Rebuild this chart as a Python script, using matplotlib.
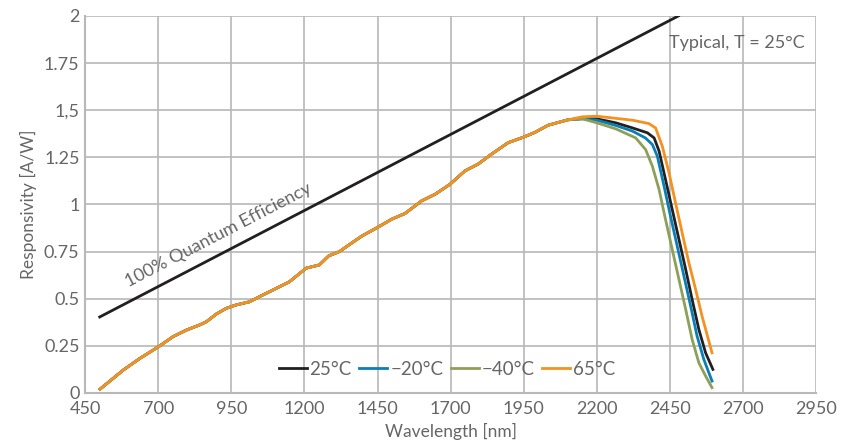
import numpy as np
import matplotlib.pyplot as plt

plt.rcParams['font.family'] = ['Lato', 'DejaVu Sans']

# shared part of the responsivity curve (all temperatures overlap here)
wl_common = [501, 581, 638, 702, 751, 797, 842, 865, 899, 933, 967, 1013, 1058, 1104,
             1149, 1206, 1251, 1283, 1320, 1340, 1397, 1450, 1499, 1544, 1601, 1647,
             1698, 1749, 1794, 1840, 1897, 1946, 1988, 2033, 2101]
r_common = [0.02, 0.122, 0.184, 0.246, 0.299, 0.334, 0.361, 0.378, 0.419, 0.449, 0.467,
            0.484, 0.52, 0.555, 0.59, 0.662, 0.679, 0.727, 0.75, 0.772, 0.833, 0.878,
            0.922, 0.952, 1.019, 1.054, 1.107, 1.178, 1.214, 1.267, 1.328, 1.355, 1.382,
            1.42, 1.449]

# tails per temperature
wl_25 = [2151, 2200, 2265, 2322, 2373, 2396, 2413, 2435, 2458, 2481, 2504, 2526, 2549, 2572, 2597]
r_25 = [1.456, 1.454, 1.433, 1.406, 1.38, 1.353, 1.283, 1.132, 0.973, 0.814, 0.655, 0.496, 0.337, 0.213, 0.125]

wl_m20 = [2151, 2200, 2265, 2322, 2366, 2390, 2407, 2430, 2452, 2475, 2498, 2521, 2543, 2566, 2594]
r_m20 = [1.454, 1.447, 1.419, 1.389, 1.353, 1.318, 1.256, 1.097, 0.938, 0.779, 0.62, 0.46, 0.301, 0.178, 0.063]

wl_m40 = [2151, 2200, 2265, 2333, 2367, 2390, 2413, 2435, 2458, 2481, 2504, 2526, 2549, 2572, 2594]
r_m40 = [1.454, 1.433, 1.401, 1.353, 1.291, 1.203, 1.079, 0.92, 0.761, 0.602, 0.443, 0.284, 0.16, 0.09, 0.028]

wl_65 = [2151, 2200, 2322, 2378, 2401, 2424, 2447, 2469, 2492, 2515, 2538, 2560, 2594]
r_65 = [1.465, 1.468, 1.447, 1.429, 1.406, 1.309, 1.168, 1.01, 0.849, 0.69, 0.549, 0.407, 0.213]

# 100% quantum efficiency line
wl_qe = [500, 2479]
r_qe = [0.403, 2.0]

xticks = [450, 700, 950, 1200, 1450, 1700, 1950, 2200, 2450, 2700, 2950]
yticks = [0, 0.25, 0.5, 0.75, 1, 1.25, 1.5, 1.75, 2]
ytick_labels = ['0', '0.25', '0.5', '0.75', '1', '1.25', '1,5', '1.75', '2']

series = [
    ('25°C', wl_25, r_25, '#231f20'),
    ('\u221220°C', wl_m20, r_m20, '#0b7fb5'),
    ('\u221240°C', wl_m40, r_m40, '#8da05a'),
    ('65°C', wl_65, r_65, '#f39121'),
]

txt = '#666666'
gridc = '#b8b8b8'

fig = plt.figure(figsize=(8.51, 4.43), dpi=100)
ax = fig.add_axes([0.1, 0.113, 0.859, 0.851])

ax.plot(wl_qe, r_qe, color='#231f20', lw=2)

# orange drawn last so it sits on top of the shared part
for name, wl, r, c in series:
    ax.plot(wl_common + wl, r_common + r, color=c, lw=2, label=name)

ax.set_xlim(450, 2950)
ax.set_ylim(0, 2)
ax.set_xticks(xticks)
ax.set_yticks(yticks)
ax.set_yticklabels(ytick_labels)
ax.grid(True, color=gridc, lw=1.2)
ax.set_axisbelow(True)
for s in ['top', 'right']:
    ax.spines[s].set_visible(False)
for s in ['left', 'bottom']:
    ax.spines[s].set_color(gridc)
    ax.spines[s].set_linewidth(1.5)
ax.tick_params(axis='y', length=0, labelsize=13, labelcolor=txt, pad=4)
ax.tick_params(axis='x', length=0, labelsize=13, labelcolor=txt, pad=6)

ax.set_xlabel('Wavelength [nm]', fontsize=12.5, color=txt, labelpad=4)
ax.set_ylabel('Responsivity [A/W]', fontsize=12.5, color=txt, labelpad=5)

ax.text(2912, 1.857, 'Typical, T = 25°C', fontsize=13, color=txt, ha='right', va='center')
ax.text(600, 0.56, '100% Quantum Efficiency', fontsize=13, color=txt, rotation=27.4,
        rotation_mode='anchor', ha='left', va='baseline')

ax.legend(loc='lower center', bbox_to_anchor=(0.495, -0.005),
          ncol=4, frameon=False, fontsize=13.5, handlelength=1.5, handletextpad=0.15,
          columnspacing=0.4, labelcolor=txt)

fig.savefig('out.png', dpi=100)
